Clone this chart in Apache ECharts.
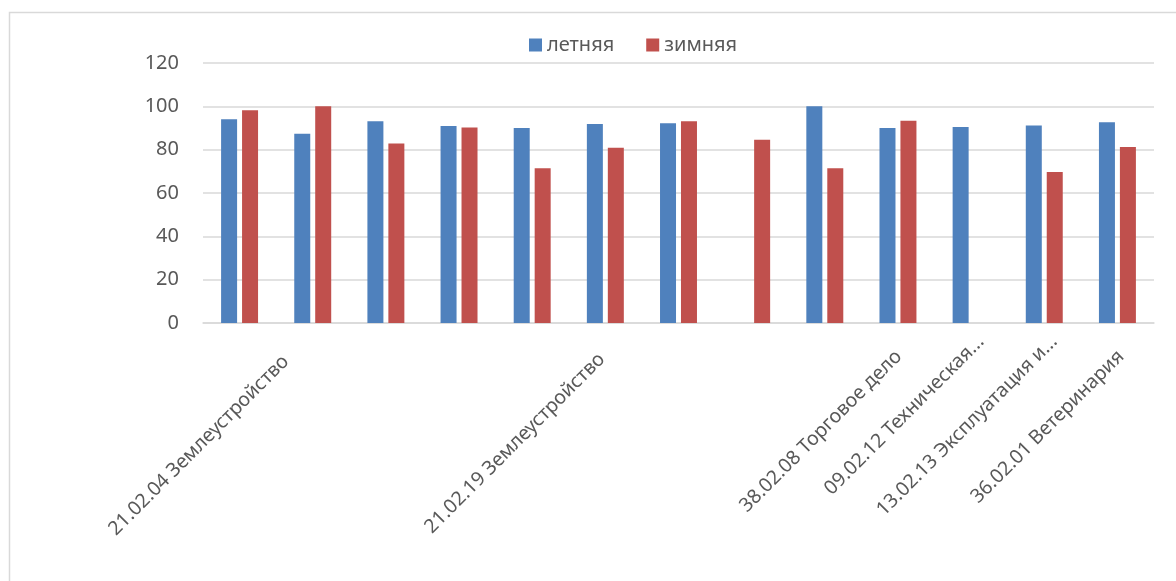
<!DOCTYPE html>
<html>
<head>
<meta charset="utf-8">
<script src="https://cdn.jsdelivr.net/npm/echarts@6/dist/echarts.min.js"></script>
<style>
html,body{margin:0;padding:0;background:#fff;}
#chart{width:1176px;height:581px;}
</style>
</head>
<body>
<div id="chart"></div>
<script>
// ---- data ----
const categories = ['', '21.02.04 Землеустройство', '', '', '', '21.02.19 Землеустройство', '', '', '', '38.02.08 Торговое дело', '09.02.12 Техническая...', '13.02.13 Эксплуатация и...', '36.02.01 Ветеринария'];
const seriesNames = ['летняя', 'зимняя'];
const summer = [94, 87.4, 93.1, 90.9, 90, 91.9, 92.2, null, 100, 90, 90.5, 91.2, 92.6];
const winter = [98.2, 100, 82.8, 90.2, 71.4, 80.9, 93.1, 84.6, 71.4, 93.4, null, 69.7, 81.2];
const yTicks = [0, 20, 40, 60, 80, 100, 120];

// ---- label placement styles (per category index) ----
const labelLineHeight = [14, 8, 14, 14, 14, 38, 14, 14, 14, 40, 32, 32, 44];
const labelRightPad   = [0, 42, 0, 0, 0, 24, 0, 0, 0, 19, 2, 2, 17];

const textColor = '#595959';
const font = 'Noto Sans';

const rich = {};
categories.forEach((c, i) => {
  rich['r' + i] = {
    fontFamily: font, fontSize: 19.5, color: textColor,
    lineHeight: labelLineHeight[i],
    padding: [0, labelRightPad[i], 0, 0]
  };
});

const chart = echarts.init(document.getElementById('chart'));
chart.setOption({
  backgroundColor: '#fff',
  animation: false,
  textStyle: { fontFamily: font },
  graphic: [{
    type: 'rect', left: 7, top: 10,
    shape: { x: 0, y: 0, width: 1200, height: 600 },
    style: { fill: 'none', stroke: '#d9d9d9', lineWidth: 1.5 },
    silent: true
  }],
  legend: {
    left: 529, top: 35, padding: 0,
    itemWidth: 13, itemHeight: 13, itemGap: 32,
    icon: 'rect',
    textStyle: { fontFamily: font, fontSize: 20, color: textColor },
    data: seriesNames
  },
  grid: { left: 203, right: 22, top: 63, bottom: 258, containLabel: false },
  xAxis: {
    type: 'category',
    data: categories,
    axisLine: { show: true, lineStyle: { color: '#d9d9d9', width: 1.5 } },
    axisTick: { show: false },
    axisLabel: {
      interval: 0,
      rotate: 45,
      margin: 3,
      align: 'right',
      verticalAlign: 'top',
      formatter: (v, i) => v ? '{r' + i + '|' + v + '}' : '',
      rich: rich
    }
  },
  yAxis: {
    type: 'value',
    min: yTicks[0], max: yTicks[yTicks.length - 1], interval: 20,
    axisLine: { show: false },
    axisTick: { show: false },
    splitLine: { lineStyle: { color: '#d9d9d9', width: 1.5 } },
    axisLabel: { margin: 24, fontFamily: font, fontSize: 20, color: textColor }
  },
  series: [
    { name: seriesNames[0], type: 'bar', data: summer, barWidth: 16, barGap: '31%',
      itemStyle: { color: '#4f81bd' } },
    { name: seriesNames[1], type: 'bar', data: winter, barWidth: 16, barGap: '31%',
      itemStyle: { color: '#c0504d' } }
  ]
});
</script>
</body>
</html>
